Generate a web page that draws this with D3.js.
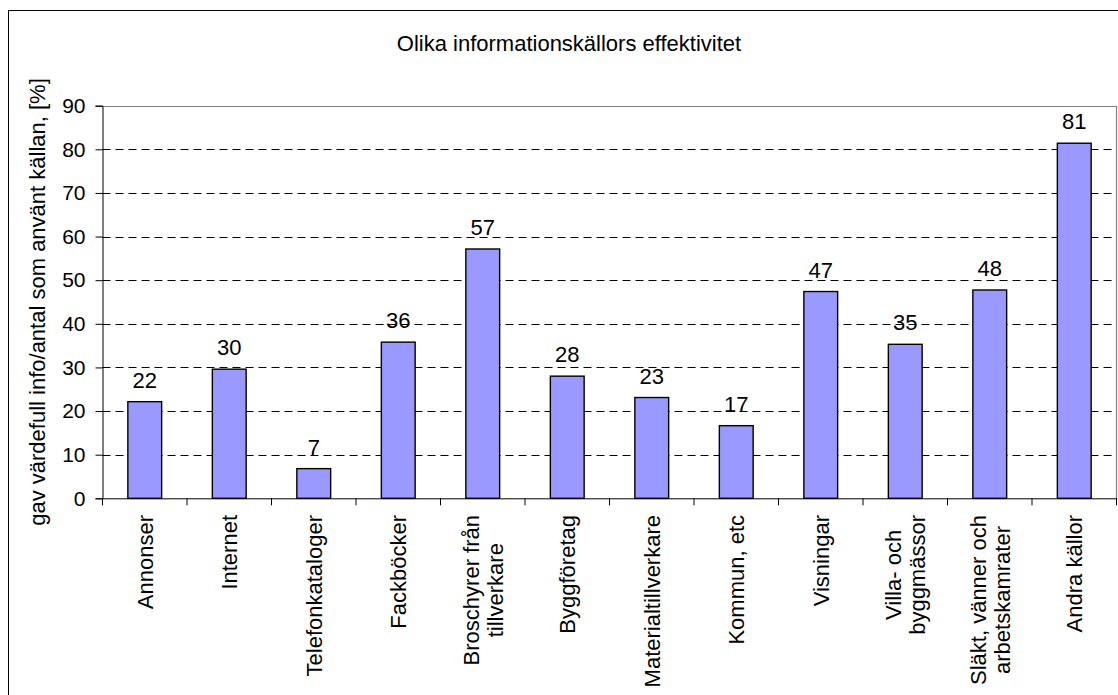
<!DOCTYPE html>
<html>
<head>
<meta charset="utf-8">
<script src="https://cdn.jsdelivr.net/npm/d3@7/dist/d3.min.js"></script>
<style>
  html, body { margin: 0; padding: 0; background: #fff; }
  svg { display: block; font-family: "Liberation Sans", Arial, sans-serif; }
</style>
</head>
<body>
<svg id="chart" width="1118" height="695"></svg>
<script>
// ---- data ----
const categories = [
  ["Annonser"],
  ["Internet"],
  ["Telefonkataloger"],
  ["Fackböcker"],
  ["Broschyrer från", "tillverkare"],
  ["Byggföretag"],
  ["Materialtillverkare"],
  ["Kommun, etc"],
  ["Visningar"],
  ["Villa- och", "byggmässor"],
  ["Släkt, vänner och", "arbetskamrater"],
  ["Andra källor"]
];
const values = [22.15, 29.6, 6.8, 35.8, 57.15, 28.0, 23.1, 16.65, 47.4, 35.3, 47.75, 81.4];
const yTicks = [0, 10, 20, 30, 40, 50, 60, 70, 80, 90];
const titleText = "Olika informationskällors effektivitet";
const yTitleText = "gav värdefull info/antal som använt källan, [%]";

// ---- layout ----
const svg = d3.select("#chart");
const pLeft = 102.5, pRight = 1116.5, pTop = 105.7, pBottom = 498.3;
const keys = categories.map((c, i) => i);

const x = d3.scaleBand().domain(keys).range([pLeft, pRight]).paddingInner(0.6).paddingOuter(0.3);
const y = d3.scaleLinear().domain([0, 90]).range([pBottom, pTop]);

// outer chart border
svg.append("rect").attr("x", 8.5).attr("y", 10.5).attr("width", 1200).attr("height", 800)
  .attr("fill", "none").attr("stroke", "#000").attr("stroke-width", 1);

// title
svg.append("text").attr("x", 569).attr("y", 50.5).attr("text-anchor", "middle")
  .attr("font-size", 22).attr("fill", "#000").text(titleText);

// gridlines
svg.append("g").selectAll("line").data(yTicks.filter(t => t > 0 && t < 90)).join("line")
  .attr("x1", pLeft).attr("x2", pRight)
  .attr("y1", d => Math.round(y(d)) + 0.5).attr("y2", d => Math.round(y(d)) + 0.5)
  .attr("stroke", "#000").attr("stroke-width", 1).attr("stroke-dasharray", "8,5");

// plot top / right border (gray)
svg.append("path")
  .attr("d", `M${pLeft},${Math.round(y(90)) + 0.5}H${pRight}V${pBottom}`)
  .attr("fill", "none").attr("stroke", "#808080").attr("stroke-width", 1.2);

// bars
svg.append("g").selectAll("rect").data(values).join("rect")
  .attr("x", (d, i) => x(i))
  .attr("y", d => y(d))
  .attr("width", x.bandwidth())
  .attr("height", d => y(0) - y(d))
  .attr("fill", "#9999FF").attr("stroke", "#000").attr("stroke-width", 1.4);

// data labels
svg.append("g").selectAll("text").data(values).join("text")
  .attr("x", (d, i) => x(i) + x.bandwidth() / 2)
  .attr("y", d => y(d) - 14)
  .attr("text-anchor", "middle").attr("font-size", 22).attr("fill", "#000")
  .text(d => d3.format(".0f")(d));

// y axis
const yAxis = svg.append("g").attr("transform", `translate(${pLeft},0)`)
  .call(d3.axisLeft(y).tickValues(yTicks).tickSize(7).tickPadding(10));
yAxis.select(".domain").attr("stroke", "#000");
yAxis.selectAll(".tick line").attr("stroke", "#000");
yAxis.selectAll(".tick text").attr("font-size", 21).attr("fill", "#000")
  .attr("font-family", "Liberation Sans, Arial, sans-serif");

// x axis (baseline + boundary ticks)
const xAxis = svg.append("g").attr("transform", `translate(0,${pBottom})`)
  .call(d3.axisBottom(x).tickSize(0).tickFormat(""));
xAxis.select(".domain").attr("stroke", "#000");
const step = x.step();
const boundaries = keys.map(k => x(k) - step * x.paddingInner() / 2).concat([x(keys.length - 1) + x.bandwidth() + step * x.paddingInner() / 2]);
xAxis.selectAll("line.bt").data(boundaries).join("line").attr("class", "bt")
  .attr("x1", d => d).attr("x2", d => d).attr("y1", 0).attr("y2", 7)
  .attr("stroke", "#000");

// category labels (rotated, multi-line centred)
const lineH = 24;
const labelTop = 515;
const catG = svg.append("g");
categories.forEach((lines, i) => {
  const cx = x(i) + x.bandwidth() / 2;
  const t = catG.append("text")
    .attr("transform", `translate(${cx},${labelTop}) rotate(-90)`)
    .attr("font-size", 22).attr("fill", "#000").attr("text-anchor", "middle");
  const n = lines.length;
  const spans = lines.map((ln, j) => t.append("tspan")
    .attr("x", 0).attr("y", 8 + (j - (n - 1) / 2) * lineH).text(ln));
  const maxL = d3.max(spans, s => s.node().getComputedTextLength());
  spans.forEach(s => s.attr("x", -maxL / 2));
});

// y axis title
svg.append("text")
  .attr("transform", `translate(45,${(pTop + pBottom) / 2}) rotate(-90)`)
  .attr("text-anchor", "middle").attr("font-size", 22).attr("fill", "#000")
  .text(yTitleText);
</script>
</body>
</html>
